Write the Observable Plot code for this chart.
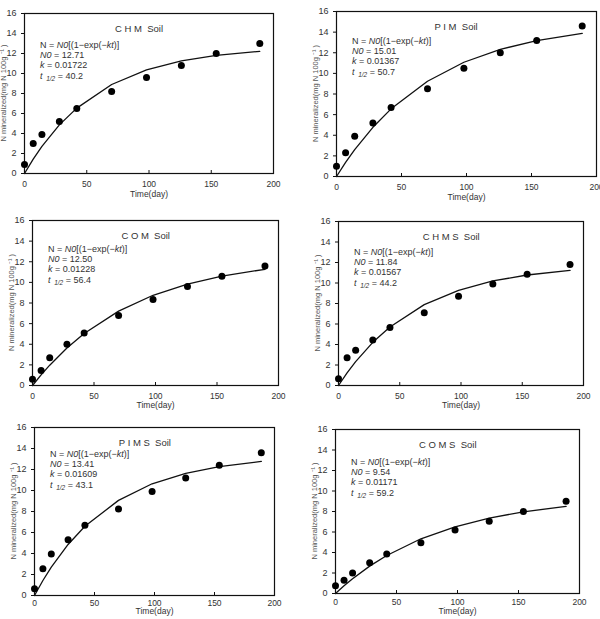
<!DOCTYPE html>
<html>
<head>
<meta charset="utf-8">
<script src="https://cdn.jsdelivr.net/npm/d3@7"></script>
<script src="https://cdn.jsdelivr.net/npm/@observablehq/plot@0.6"></script>
<style>
  html, body { margin: 0; padding: 0; background: #fff; }
  #fig { position: relative; width: 600px; height: 619px; overflow: hidden; background: #fff; }
  #fig svg { position: absolute; overflow: visible; }
</style>
</head>
<body>
<div id="fig"></div>
<script>
// Incubation sampling days
const days = [0, 7, 14, 28, 42, 70, 98, 126, 154, 189];

// Soil names, one per panel
const soilTitles = ["C H M  Soil", "P I M  Soil", "C O M  Soil", "C H M S  Soil", "P I M S  Soil", "C O M S  Soil"];

// Cumulative N mineralized (mg N 100g-1), measured
const chmObserved  = [0.9, 3.0, 3.9, 5.2, 6.5, 8.2, 9.6, 10.8, 12.0, 13.0];
const pimObserved  = [1.0, 2.3, 3.9, 5.2, 6.7, 8.5, 10.5, 12.0, 13.2, 14.6];
const comObserved  = [0.6, 1.45, 2.7, 4.0, 5.1, 6.8, 8.35, 9.6, 10.6, 11.6];
const chmsObserved = [0.65, 2.7, 3.45, 4.45, 5.65, 7.1, 8.7, 9.9, 10.85, 11.8];
const pimsObserved = [0.65, 2.55, 3.95, 5.3, 6.7, 8.25, 9.9, 11.2, 12.4, 13.6];
const comsObserved = [0.75, 1.3, 2.0, 3.0, 3.85, 4.95, 6.2, 7.05, 8.0, 9.0];

// First-order model curve values at the sampling days
const chmFitted  = [0, 1.44, 2.72, 4.86, 6.54, 8.90, 10.36, 11.26, 11.81, 12.22];
const pimFitted  = [0, 1.37, 2.61, 4.77, 6.56, 9.24, 11.08, 12.33, 13.18, 13.88];
const comFitted  = [0, 1.03, 1.97, 3.64, 5.04, 7.21, 8.75, 9.84, 10.61, 11.27];
const chmsFitted = [0, 1.23, 2.33, 4.21, 5.71, 7.89, 9.29, 10.20, 10.78, 11.23];
const pimsFitted = [0, 1.43, 2.70, 4.86, 6.59, 9.06, 10.64, 11.64, 12.28, 12.77];
const comsFitted = [0, 0.75, 1.44, 2.67, 3.71, 5.34, 6.51, 7.36, 7.97, 8.50];

// Model parameters per soil
const n0Labels = ["12.71", "15.01", "12.50", "11.84", "13.41", "9.54"];
const kLabels = ["0.01722", "0.01367", "0.01228", "0.01567", "0.01609", "0.01171"];
const halfLifeLabels = ["40.2", "50.7", "56.4", "44.2", "43.1", "59.2"];

// Axis ticks
const xTicks = [0, 50, 100, 150, 200];
const yTicks = [0, 2, 4, 6, 8, 10, 12, 14, 16];

const observedSets = [chmObserved, pimObserved, comObserved, chmsObserved, pimsObserved, comsObserved];
const fittedSets = [chmFitted, pimFitted, comFitted, chmsFitted, pimsFitted, comsFitted];

// Plot-area placement of each panel on the page
const panels = [
  {left: 24,  top: 13,  width: 249, height: 160, eqTop: 32, xPad: 7, xLabelDy: 23},
  {left: 336, top: 11,  width: 260, height: 165, eqTop: 30, xPad: 7, xLabelDy: 23},
  {left: 32,  top: 220, width: 246, height: 165, eqTop: 29, xPad: 7, xLabelDy: 22},
  {left: 338, top: 221, width: 245, height: 164, eqTop: 31, xPad: 7, xLabelDy: 22},
  {left: 34,  top: 427, width: 240, height: 168, eqTop: 27, xPad: 4, xLabelDy: 18.5},
  {left: 335, top: 429, width: 244, height: 164, eqTop: 33, xPad: 5, xLabelDy: 20.5}
];

const M = {left: 24, right: 6, top: 6, bottom: 32};
const FONT = "'Liberation Sans', Arial, sans-serif";
const yLabel = "N mineralized(mg N 100g ⁻¹ )";

const fig = document.getElementById("fig");

panels.forEach((f, p) => {
  const obs = observedSets[p];
  const fit = fittedSets[p];
  const series = days.map((d, i) => ({day: d, observed: obs[i], fitted: fit[i]}));

  const svg = Plot.plot({
    width: f.width + M.left + M.right,
    height: f.height + M.top + M.bottom,
    marginLeft: M.left, marginRight: M.right, marginTop: M.top, marginBottom: M.bottom,
    x: {domain: [0, 200]},
    y: {domain: [0, 16]},
    style: {fontFamily: FONT, fontSize: "9px", color: "#333", background: "transparent", overflow: "visible"},
    marks: [
      Plot.axisY({ticks: yTicks, tickSize: 3, tickPadding: 5, label: null, stroke: "#111"}),
      Plot.axisX({ticks: xTicks, tickSize: 0, tickPadding: f.xPad, label: null, fontSize: 8.5}),
      Plot.tickX(xTicks.slice(1, -1), {x: d => d, insetTop: f.height - 3, stroke: "#111"}),
      Plot.frame({stroke: "#111", strokeWidth: 1.2}),
      Plot.line(series, {x: "day", y: "fitted", stroke: "#111", strokeWidth: 1.3}),
      Plot.dot(series, {x: "day", y: "observed", r: 3.5, fill: "#000", stroke: "none"}),
      Plot.text([soilTitles[p]], {x: [92], frameAnchor: "top", dy: 12, text: d => d, fill: "#333", fontSize: 9.5}),
      Plot.text(["Time(day)"], {frameAnchor: "bottom", dy: f.xLabelDy, text: d => d, fill: "#333", fontSize: 8.5})
    ]
  });
  svg.style.left = (f.left - M.left) + "px";
  svg.style.top = (f.top - M.top) + "px";

  const root = d3.select(svg);

  // Vertical axis title
  root.append("text")
    .attr("transform", `translate(${M.left - 21},${M.top + f.height / 2}) rotate(-90)`)
    .attr("text-anchor", "middle")
    .attr("dy", "0.35em")
    .attr("font-family", FONT)
    .attr("font-size", 7.5)
    .attr("fill", "#555")
    .text(yLabel);

  // Model equation and parameters, with italic symbols
  const g = root.append("g")
    .attr("transform", `translate(${M.left + 16},${M.top + f.eqTop})`)
    .attr("text-anchor", "start")
    .attr("font-family", FONT)
    .attr("font-size", 9)
    .attr("fill", "#333");
  const lines = [
    {y: 0,    parts: [["N = "], ["N0", "italic"], ["[(1−exp(−"], ["kt", "italic"], [")]"]]},
    {y: 9.8,  parts: [["N0", "italic"], [" = " + n0Labels[p]]]},
    {y: 19.8, parts: [["k", "italic"], [" = " + kLabels[p]]]},
    {y: 30.5, parts: [["t", "italic"], ["  1/2", "italic", "sub"], [" = " + halfLifeLabels[p], null, "back"]]}
  ];
  lines.forEach(line => {
    const t = g.append("text").attr("y", line.y).attr("dy", "0.35em");
    line.parts.forEach(([s, style, shift]) => {
      const ts = t.append("tspan").text(s);
      if (style) ts.attr("font-style", style);
      if (shift === "sub") ts.attr("font-size", 6.5).attr("dy", 2.5);
      if (shift === "back") ts.attr("dy", -2.5);
    });
  });

  fig.appendChild(svg);
});
</script>
</body>
</html>
